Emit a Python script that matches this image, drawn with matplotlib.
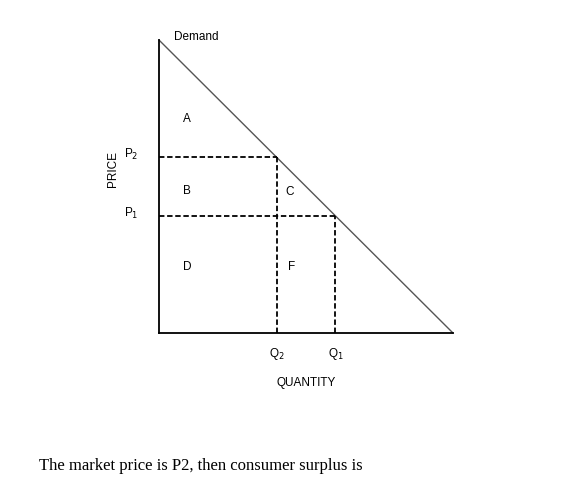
import matplotlib
matplotlib.use("Agg")
import matplotlib.pyplot as plt

# demand curve endpoints (quantity, price)
demand_q = [0, 10]
demand_p = [10, 0]
# market points
q_levels = [4, 6]      # Q2, Q1
p_levels = [6, 4]      # P2, P1
q_labels = ["Q$_2$", "Q$_1$"]
p_labels = ["P$_2$", "P$_1$"]
# region labels
regions = ["A", "B", "C", "D", "F"]
region_q = [0.95, 0.95, 4.45, 0.95, 4.5]
region_p = [7.3, 4.85, 4.8, 2.25, 2.25]

plt.rcParams["font.family"] = ["Liberation Sans", "DejaVu Sans"]
fig = plt.figure(figsize=(5.63, 4.96), dpi=100)
ax = fig.add_axes([0.2824, 0.3286, 0.5222, 0.5907])
ax.set_xlim(0, 10)
ax.set_ylim(0, 10)
for s in ("top", "right"):
    ax.spines[s].set_visible(False)
for s in ("left", "bottom"):
    ax.spines[s].set_linewidth(1.3)
ax.set_xticks([])
ax.set_yticks([])

ax.plot(demand_q, demand_p, color="#555555", lw=1.0, clip_on=False)
for q, p in zip(q_levels, p_levels):
    ax.plot([0, q], [p, p], color="black", ls=(0, (3, 1.5)), lw=1.3)
    ax.plot([q, q], [0, p], color="black", ls=(0, (3, 1.5)), lw=1.3)

fs = 8.5
for lab, q, p in zip(regions, region_q, region_p):
    ax.text(q, p, lab, fontsize=fs, ha="center", va="center")
for lab, q in zip(q_labels, q_levels):
    ax.text(q, -0.7, lab, fontsize=fs, ha="center", va="center", clip_on=False)
for lab, p in zip(p_labels, p_levels):
    ax.text(-0.95, p + 0.08, lab, fontsize=fs, ha="center", va="center", clip_on=False)

ax.text(0.5, 10.1, "Demand", fontsize=fs, ha="left", va="center", clip_on=False)
ax.text(5.0, -1.7, "QUANTITY", fontsize=fs, ha="center", va="center", clip_on=False)
ax.text(-1.55, 5.6, "PRICE", fontsize=fs, ha="center", va="center", rotation=90, clip_on=False)

fig.text(39 / 563, 1 - 466 / 496, "The market price is P2, then consumer surplus is",
         fontsize=12, family=["Liberation Serif", "DejaVu Serif"], ha="left", va="center")

fig.savefig("out.png", dpi=100)
